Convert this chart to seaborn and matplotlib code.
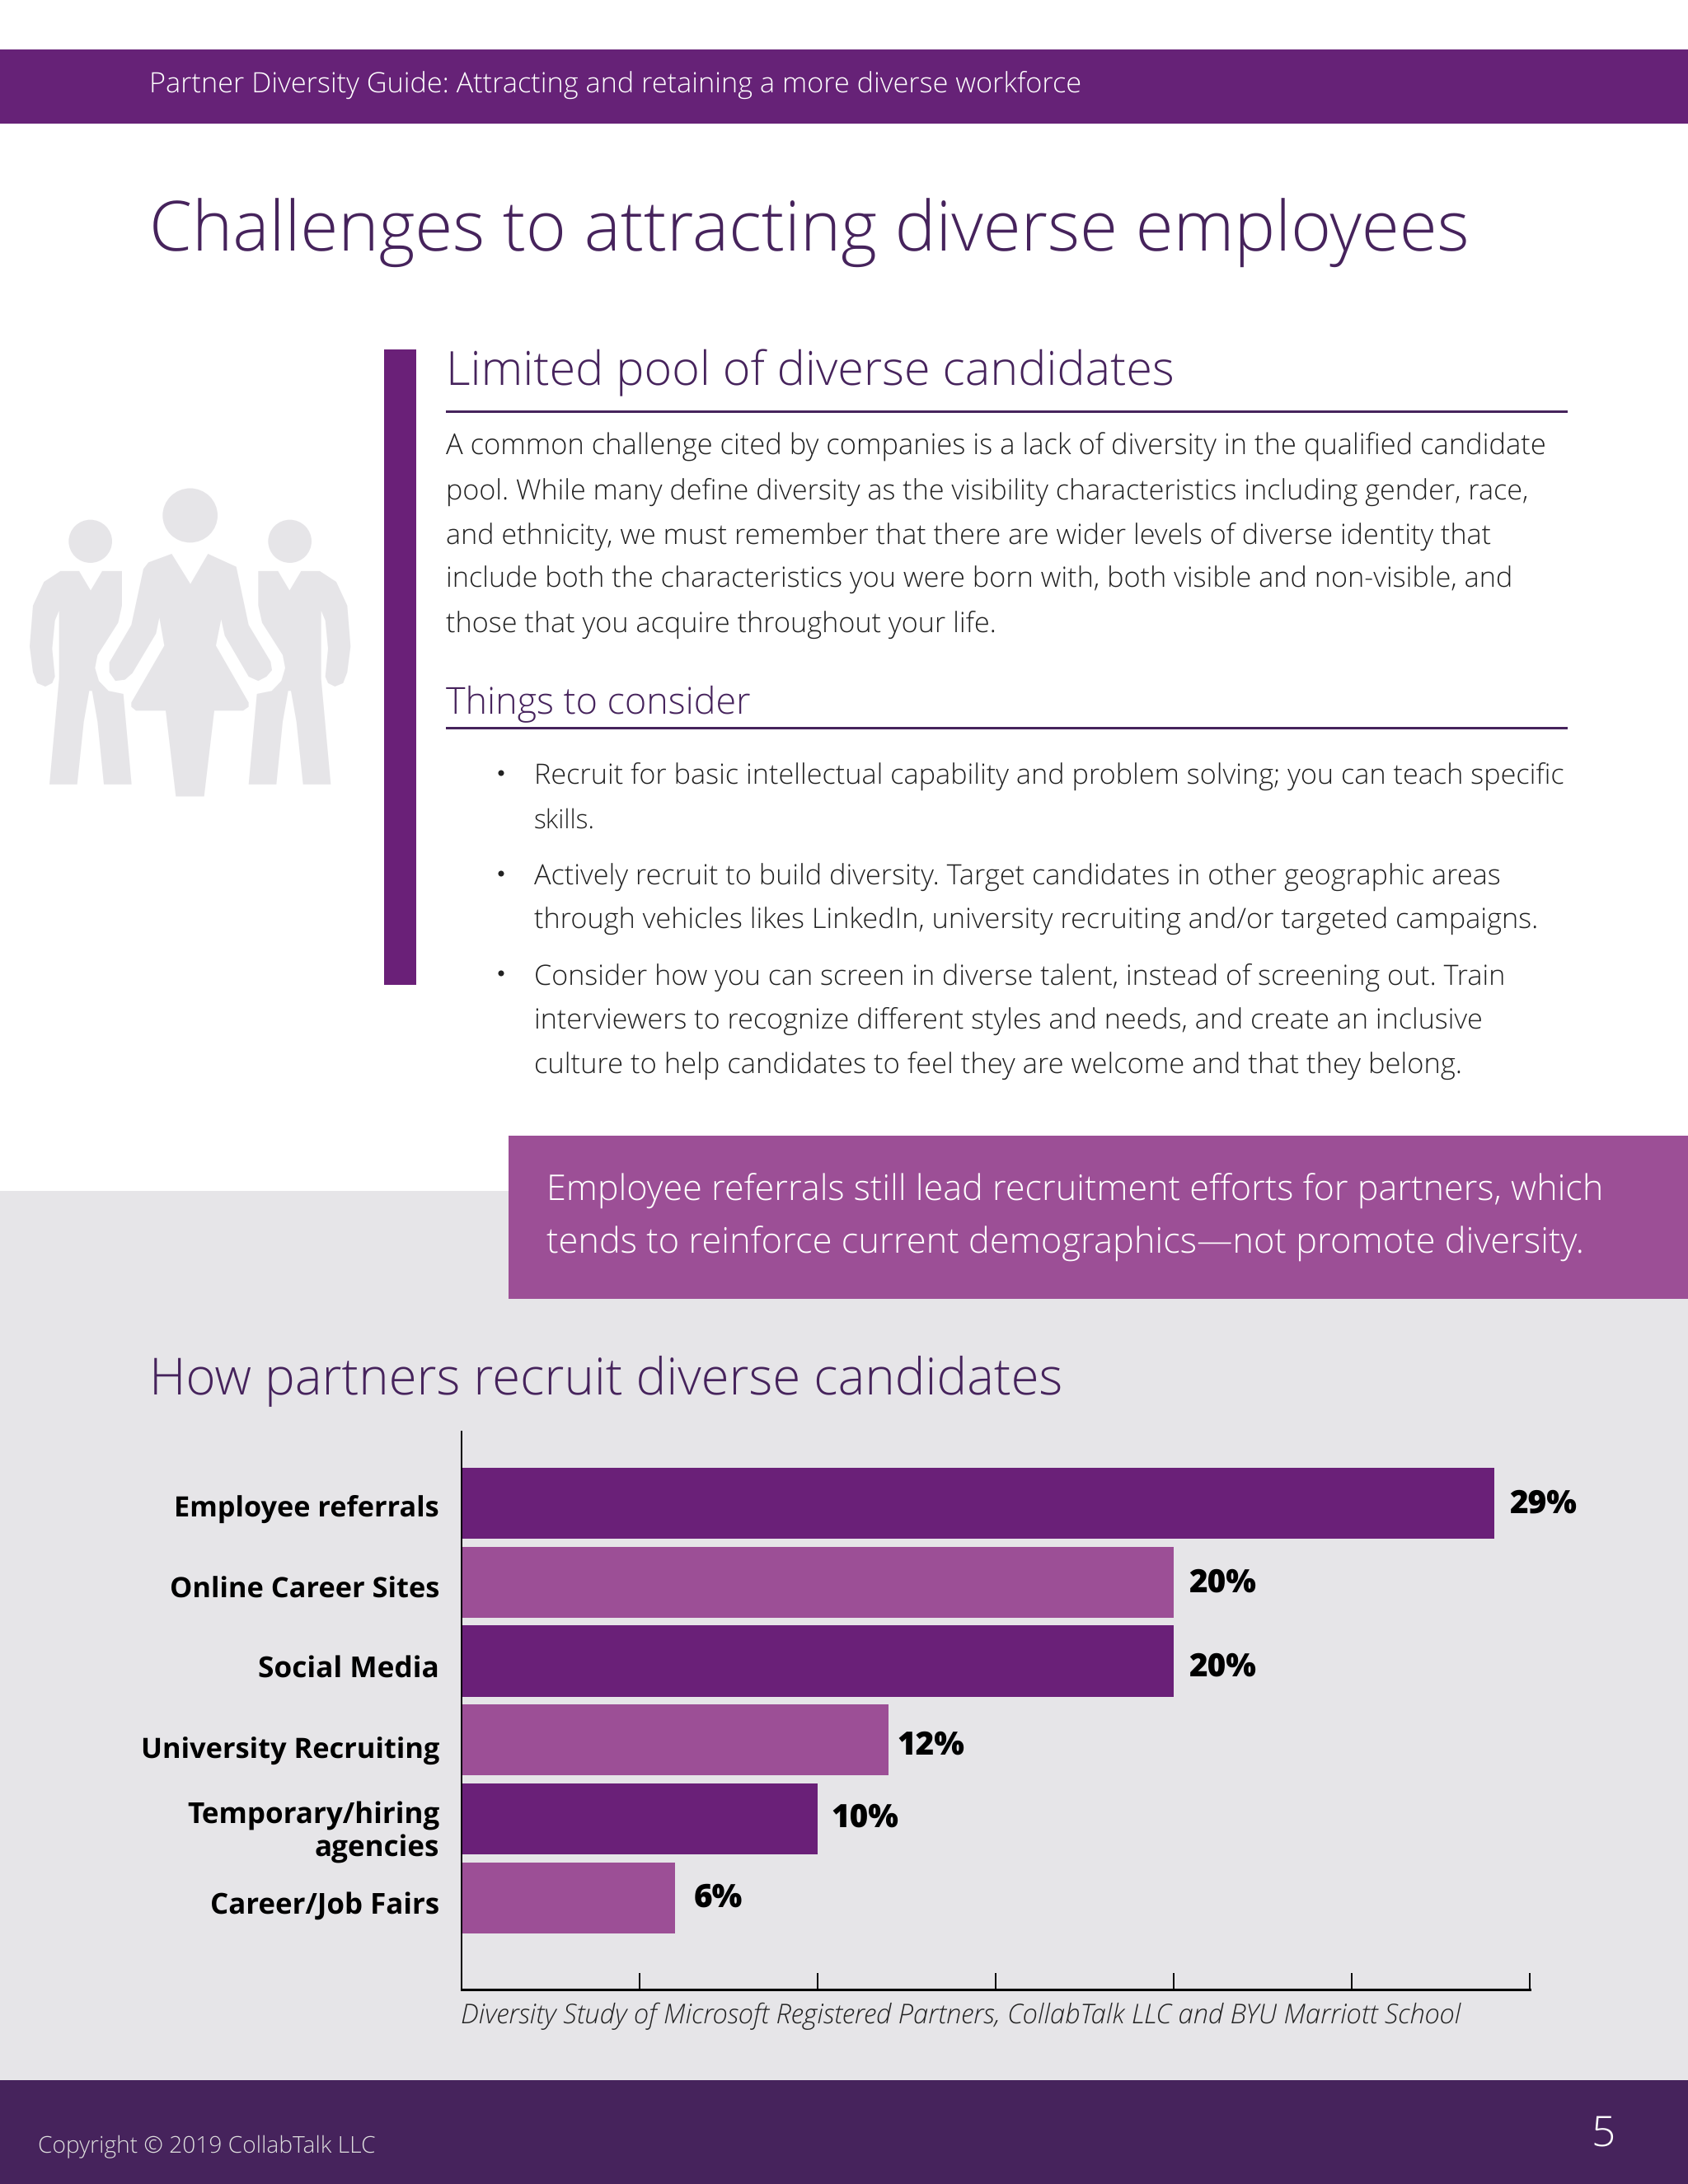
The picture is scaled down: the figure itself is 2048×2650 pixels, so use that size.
"""Partner Diversity Guide page: recruiting channels bar chart and surrounding copy."""

import matplotlib
matplotlib.use('Agg')
import matplotlib.pyplot as plt
from matplotlib.patches import Ellipse, Polygon, Rectangle
from matplotlib.transforms import ScaledTranslation
import pandas as pd
import seaborn as sns

# chart data
channels = ['Employee referrals', 'Online Career Sites', 'Social Media',
            'University Recruiting', 'Temporary/hiring\nagencies', 'Career/Job Fairs']
shares = [29, 20, 20, 12, 10, 6]
share_labels = ['29%', '20%', '20%', '12%', '10%', '6%']
x_ticks = [0, 5, 10, 15, 20, 25, 30]

# page copy
header_text = 'Partner Diversity Guide: Attracting and retaining a more diverse workforce'
page_title = 'Challenges to attracting diverse employees'
section_title = 'Limited pool of diverse candidates'
intro_lines = [
    'A common challenge cited by companies is a lack of diversity in the qualified candidate',
    'pool. While many define diversity as the visibility characteristics including gender, race,',
    'and ethnicity, we must remember that there are wider levels of diverse identity that',
    'include both the characteristics you were born with, both visible and non-visible, and',
    'those that you acquire throughout your life.',
]
consider_title = 'Things to consider'
bullet_lines = [
    'Recruit for basic intellectual capability and problem solving; you can teach specific',
    'skills.',
    'Actively recruit to build diversity. Target candidates in other geographic areas',
    'through vehicles likes LinkedIn, university recruiting and/or targeted campaigns.',
    'Consider how you can screen in diverse talent, instead of screening out. Train',
    'interviewers to recognize different styles and needs, and create an inclusive',
    'culture to help candidates to feel they are welcome and that they belong.',
]
callout_lines = [
    'Employee referrals still lead recruitment efforts for partners, which',
    'tends to reinforce current demographics—not promote diversity.',
]
chart_title = 'How partners recruit diverse candidates'
source_text = 'Diversity Study of Microsoft Registered Partners, CollabTalk LLC and BYU Marriott School'
copyright_text = 'Copyright © 2019 CollabTalk LLC'
page_number = '5'

# colours
PURPLE = '#6a2078'
ORCHID = '#9c4f96'
DARK_PURPLE = '#46235c'
PANEL = '#e6e5e8'
BODY = '#222222'

W, H = 2048, 2650
sns.set_theme(style='white')
plt.rcParams['font.family'] = ['Open Sans', 'DejaVu Sans']
plt.rcParams['text.hinting'] = 'none'

fig = plt.figure(figsize=(W / 100, H / 100), dpi=100, facecolor='white')
renderer = fig.canvas.get_renderer()

# page layer, in pixels from the top left corner
page = fig.add_axes([0, 0, 1, 1])
page.set_xlim(0, W)
page.set_ylim(H, 0)
page.axis('off')


def box(x0, y0, x1, y1, color):
    page.add_patch(Rectangle((x0, y0), x1 - x0, y1 - y0, color=color, lw=0))


def fit_size(line, width, **font):
    # font size that makes this line the given width in pixels
    probe = page.text(0, 0, line, fontsize=100, **font)
    measured = probe.get_window_extent(renderer).width
    probe.remove()
    return 100 * width / measured


def put(x, y, line, size, color, **font):
    page.text(x, y, line, fontsize=size, color=color, va='baseline', **font)


box(0, 60, W, 150, '#662277')
box(0, 1445, W, 2524, PANEL)
box(617, 1378, W, 1576, ORCHID)
box(0, 2524, W, H, DARK_PURPLE)
box(466, 424, 505, 1195, PURPLE)
box(541, 498, 1902, 501, DARK_PURPLE)
box(541, 882, 1902, 885, DARK_PURPLE)

# people icon, outlines traced in a 3 x 1.912 scaled crop at (0, 400)
man = [(220, 560), (288, 560), (330, 605), (372, 560), (444, 560), (444, 640), (430, 680),
       (355, 755), (346, 785), (360, 815), (395, 838), (449, 845), (479, 1055), (378, 1055),
       (355, 910), (335, 838), (325, 838), (305, 910), (281, 1055), (180, 1055), (215, 810),
       (215, 652), (200, 675), (190, 740), (200, 805), (190, 820), (165, 828), (135, 820),
       (120, 795), (108, 735), (120, 640), (160, 585)]
woman = [(625, 520), (693, 590), (757, 520), (860, 550), (905, 685), (985, 770), (990, 790),
         (970, 805), (940, 815), (905, 805), (818, 710), (805, 672), (786, 733), (905, 865),
         (905, 875), (885, 884), (780, 884), (743, 1083), (640, 1083), (603, 884), (495, 884),
         (478, 875), (478, 865), (598, 733), (580, 668), (568, 705), (482, 797), (455, 812),
         (420, 815), (398, 795), (398, 772), (478, 685), (522, 555), (540, 540)]


def icon_xy(points):
    return [(px / 3, 400 + py / 1.912) for px, py in points]


page.add_patch(Polygon(icon_xy(man), color=PANEL, lw=0))
page.add_patch(Polygon(icon_xy([(1384 - px, py) for px, py in man]), color=PANEL, lw=0))
page.add_patch(Polygon(icon_xy(woman), color=PANEL, lw=0))
for cx, cy, rx, ry in [(329, 491, 79, 50), (1055, 491, 79, 50), (692, 431, 100, 63)]:
    page.add_patch(Ellipse((cx / 3, 400 + cy / 1.912), 2 * rx / 3, 2 * ry / 1.912, color=PANEL, lw=0))

light = {'fontweight': 'light'}
put(181, 112, header_text, fit_size(header_text, 1131, **light), 'white', **light)
put(181, 305, page_title, fit_size(page_title, 1602, **light), DARK_PURPLE, **light)
put(541, 467, section_title, fit_size(section_title, 883, **light), DARK_PURPLE, **light)

intro_ends = [1876, 1857, 1808, 1837, 1209]
for y, line, end in zip([552, 606, 660, 713, 767], intro_lines, intro_ends):
    put(541, y, line, fit_size(line, end - 541, **light), BODY, **light)

put(541, 866, consider_title, fit_size(consider_title, 370, **light), DARK_PURPLE, **light)

bullet_ends = [1900, 722, 1823, 1868, 1828, 1799, 1773]
for y, line, end in zip([951, 1005, 1074, 1127, 1195, 1248, 1302], bullet_lines, bullet_ends):
    put(648, y, line, fit_size(line, end - 648, **light), BODY, **light)
for y in [938, 1060, 1181]:
    page.add_patch(Ellipse((608, y), 7, 7, color=BODY, lw=0))

put(663, 1457, callout_lines[0], fit_size(callout_lines[0], 1282, **light), 'white', **light)
put(663, 1521, callout_lines[1], fit_size(callout_lines[1], 1259, **light), 'white', **light)

put(181, 1692, chart_title, fit_size(chart_title, 1108, **light), DARK_PURPLE, **light)
put(559, 2455, source_text, fit_size(source_text, 1214, fontstyle='italic', **light), '#222222',
    fontstyle='italic', **light)
put(46, 2612, copyright_text, fit_size(copyright_text, 410, **light), '#dddddd', **light)
put(1945, 2603, page_number, 37, 'white', ha='center', **light)

# chart
ax_left, ax_right, ax_top, ax_bottom = 560, 1856, 1737, 2414
ax = fig.add_axes([ax_left / W, 1 - ax_bottom / H, (ax_right - ax_left) / W, (ax_bottom - ax_top) / H])
ax.patch.set_alpha(0)

df = pd.DataFrame({'channel': channels, 'share': shares})
sns.barplot(data=df, y='channel', x='share', hue='channel', orient='h', legend=False,
            palette=[PURPLE, ORCHID] * 3, saturation=1, width=0.9, linewidth=0, ax=ax)
ax.set_xlim(x_ticks[0], x_ticks[-1])
ax.set_ylim(6.16, -0.908)
ax.set_xticks(x_ticks)
ax.set_xticklabels([])
ax.set_xlabel('')
ax.set_ylabel('')
sns.despine(ax=ax)
ax.spines['left'].set_linewidth(1.4)
ax.spines['left'].set_color('black')
ax.spines['bottom'].set_linewidth(2.2)
ax.spines['bottom'].set_color('black')
ax.tick_params(axis='x', direction='in', length=14.4, width=1.4, color='black', bottom=True)
ax.tick_params(axis='y', left=False, length=0, pad=19.4)

label_widths = [322, 327, 220, 362, 306, 278]
label_drop = [3, 6, 6, 10, 10, 5]  # pixels below the bar centre
for label, width, drop in zip(ax.get_yticklabels(), label_widths, label_drop):
    first_line = label.get_text().split('\n')[0]
    label.set_fontsize(fit_size(first_line, width, fontweight='bold'))
    label.set_fontweight('bold')
    label.set_color('black')
    label.set_linespacing(1.17)
    label.set_transform(label.get_transform() + ScaledTranslation(0, -drop / 100, fig.dpi_scale_trans))

# hand placed in the source layout, so each label has its own offset from the bar end
value_offsets = [(18, -12), (18, -12), (18, -18), (10, -17), (16, -10), (22, -11)]
value_size = fit_size('29%', 82, fontweight='extra bold')
for i, (share, text, offset) in enumerate(zip(shares, share_labels, value_offsets)):
    ax.annotate(text, xy=(share, i), xytext=offset, textcoords='offset pixels',
                va='baseline', ha='left', fontsize=value_size, fontweight='extra bold', color='black')

fig.savefig('out.png', dpi=100)
plt.close(fig)
